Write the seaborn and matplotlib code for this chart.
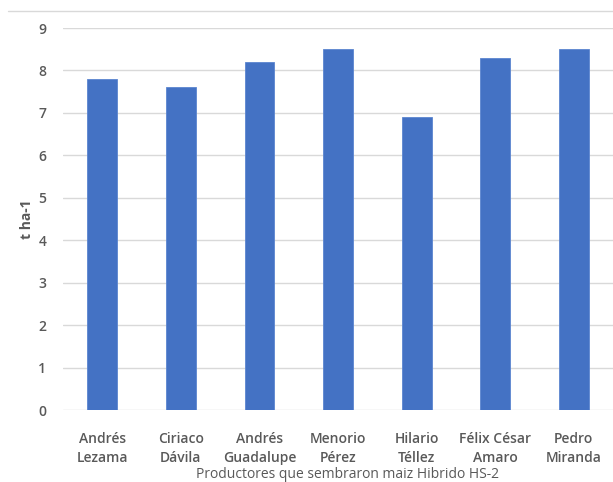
import matplotlib
matplotlib.use("Agg")
import matplotlib.pyplot as plt
import seaborn as sns
import pandas as pd
from matplotlib.lines import Line2D

productores = ["Andrés\nLezama", "Ciriaco\nDávila", "Andrés\nGuadalupe", "Menorio\nPérez",
               "Hilario\nTéllez", "Félix César\nAmaro", "Pedro\nMiranda"]
rendimiento = [7.8, 7.6, 8.2, 8.5, 6.9, 8.3, 8.5]
yticks = [0, 1, 2, 3, 4, 5, 6, 7, 8, 9]

df = pd.DataFrame({"prod": productores, "val": rendimiento})

sns.set_theme(style="white")
plt.rcParams['font.family'] = ['Open Sans', 'DejaVu Sans']

fig = plt.figure(figsize=(6.13, 4.82), dpi=100)
ax = fig.add_axes([63/613, 72/482, 1 - 63/613, (410-28)/482])

sns.barplot(data=df, x="prod", y="val", color="#4472C4", width=0.38, ax=ax,
            saturation=1, edgecolor="#5b85d0", linewidth=0.6, zorder=3)

ax.set_ylim(0, 9)
ax.set_yticks(yticks)
ax.grid(axis='y', color='#d9d9d9', linewidth=1, zorder=0)
ax.set_axisbelow(True)
for s in ax.spines.values():
    s.set_visible(False)
ax.tick_params(axis='both', length=0, colors='#595959', labelsize=10)
ax.tick_params(axis='x', pad=16)
ax.tick_params(axis='y', pad=12)
for lbl in ax.get_xticklabels():
    lbl.set_fontweight('semibold')
    lbl.set_color('#595959')
    lbl.set_linespacing(1.45)
for lbl in ax.get_yticklabels():
    lbl.set_fontweight('semibold')
    lbl.set_color('#595959')

ax.set_xlabel("Productores que sembraron maiz Hibrido HS-2", fontsize=10, color='#595959',
              va='center')
ax.xaxis.set_label_coords(0.518, (7 - 72) / 382)
ax.set_ylabel("t ha-1", fontsize=10, fontweight='bold', color='#595959', labelpad=3)

fig.add_artist(Line2D([8/613, 1], [1 - 11/482, 1 - 11/482], color='#d9d9d9', linewidth=1,
                      transform=fig.transFigure))

fig.savefig("out.png", dpi=100, facecolor="white")
